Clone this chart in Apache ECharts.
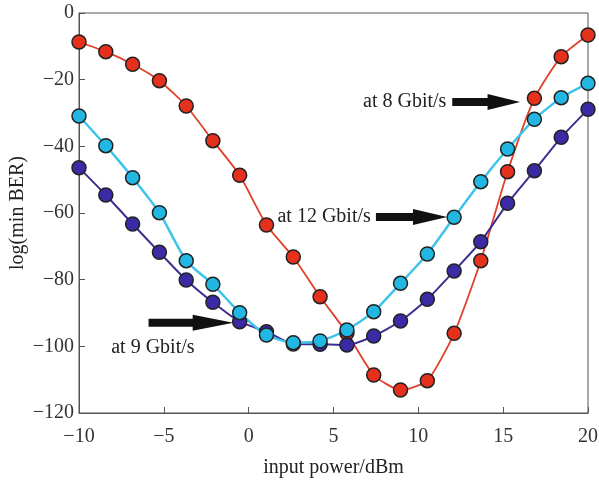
<!DOCTYPE html>
<html>
<head>
<meta charset="utf-8">
<script src="https://cdn.jsdelivr.net/npm/echarts@6/dist/echarts.min.js"></script>
<style>
  html, body { margin: 0; padding: 0; background: #fff; }
  #chart { width: 599px; height: 483px; }
</style>
</head>
<body>
<div id="chart"></div>
<script>
// input power (dBm), 20 samples from -10 to 20
const inputPower = [-10, -8.42, -6.84, -5.26, -3.68, -2.11, -0.53, 1.05, 2.63, 4.21,
  5.79, 7.37, 8.95, 10.53, 12.11, 13.68, 15.26, 16.84, 18.42, 20];
const ber8G = [-8.7, -11.6, -15.4, -20.3, -27.9, -38.3, -48.7, -63.6, -73.2, -85.1,
  -96.0, -108.6, -113.1, -110.3, -96.1, -74.3, -47.6, -25.6, -13.1, -6.6];
const ber12G = [-30.9, -39.8, -49.4, -59.9, -74.3, -81.4, -89.9, -96.6, -98.9, -98.4,
  -95.1, -89.6, -81.1, -72.3, -61.3, -50.6, -40.8, -31.9, -25.4, -21.1];
const ber9G = [-46.4, -54.6, -63.3, -71.8, -80.1, -86.8, -92.6, -95.6, -99.3, -99.4,
  -99.6, -96.9, -92.4, -85.9, -77.4, -68.6, -57.1, -47.3, -37.3, -28.9];
const xTicks = [-10, -5, 0, 5, 10, 15, 20];
const yTicks = [0, -20, -40, -60, -80, -100, -120];

// annotations: label text and arrow [tail, tip] in data units
const notes = [
  { text: "at 8 Gbit/s", align: "right", label: [11.65, -26.7], arrow: [[12.0, -26.7], [16.0, -26.7]] },
  { text: "at 12 Gbit/s", align: "right", label: [7.2, -61.2], arrow: [[7.5, -61.2], [11.7, -61.2]] },
  { text: "at 9 Gbit/s", align: "left", label: [-8.1, -100.5], arrow: [[-5.9, -92.9], [-0.9, -92.9]] }
];

const font = "'Liberation Serif', 'DejaVu Serif', serif";
const minus = (v) => String(v).replace("-", "\u2212");

const chart = echarts.init(document.getElementById("chart"));

function pairs(ys) {
  return inputPower.map((x, i) => [x, ys[i]]);
}

function lineSeries(name, ys, lineColor, dotColor, width) {
  return {
    name: name,
    type: "line",
    data: pairs(ys),
    smooth: 0.2,
    symbol: "circle",
    symbolSize: 14,
    lineStyle: { color: lineColor, width: width },
    itemStyle: { color: dotColor, borderColor: "#222", borderWidth: 1.5 },
    emphasis: { disabled: true },
    animation: false
  };
}

const option = {
  backgroundColor: "#fff",
  animation: false,
  grid: {
    left: 79, right: 11, top: 13, bottom: 70,
    outerBoundsMode: "none",
    show: true, borderColor: "#555", borderWidth: 1, backgroundColor: "transparent"
  },
  xAxis: {
    type: "value",
    min: -10, max: 20, interval: 5,
    name: "input power/dBm",
    nameLocation: "middle",
    nameGap: 45,
    nameTextStyle: { fontFamily: font, fontSize: 20, color: "#222" },
    axisLine: { onZero: false, lineStyle: { color: "#555" } },
    axisTick: { inside: true, length: 6, lineStyle: { color: "#555" } },
    axisLabel: {
      fontFamily: font, fontSize: 20, color: "#333", margin: 14,
      formatter: (v) => xTicks.includes(v) ? minus(v) : ""
    },
    splitLine: { show: false }
  },
  yAxis: {
    type: "value",
    min: -120, max: 0, interval: 20,
    name: "log(min BER)",
    nameLocation: "middle",
    nameGap: 61,
    nameMoveOverlap: false,
    nameTextStyle: { fontFamily: font, fontSize: 20, color: "#222", verticalAlign: "middle" },
    axisLine: { onZero: false, lineStyle: { color: "#555" } },
    axisTick: { inside: true, length: 6, lineStyle: { color: "#555" } },
    axisLabel: {
      fontFamily: font, fontSize: 20, color: "#333", margin: 5,
      formatter: (v) => yTicks.includes(v) ? minus(v) : ""
    },
    splitLine: { show: false }
  },
  series: [
    lineSeries("8 Gbit/s", ber8G, "#e0402a", "#e5301c", 1.8),
    lineSeries("9 Gbit/s", ber9G, "#3d2f92", "#3a2aa6", 2),
    lineSeries("12 Gbit/s", ber12G, "#3ec3ea", "#22b6e2", 2.5)
  ]
};

chart.setOption(option);

// draw annotation text and block arrows from data coordinates
const graphics = [];
notes.forEach((n) => {
  const lp = chart.convertToPixel({ gridIndex: 0 }, n.label);
  graphics.push({
    type: "text",
    x: lp[0], y: lp[1],
    style: {
      text: n.text, font: "20px " + font, fill: "#222",
      textAlign: n.align, textVerticalAlign: "middle"
    },
    z: 20
  });
  const a = chart.convertToPixel({ gridIndex: 0 }, n.arrow[0]);
  const b = chart.convertToPixel({ gridIndex: 0 }, n.arrow[1]);
  const headLen = (b[0] - a[0]) * 0.48;
  const hx = b[0] - headLen;
  graphics.push({
    type: "polygon",
    shape: {
      points: [
        [a[0], a[1] - 4], [hx, a[1] - 4], [hx, a[1] - 8], [b[0], b[1]],
        [hx, a[1] + 8], [hx, a[1] + 4], [a[0], a[1] + 4]
      ]
    },
    style: { fill: "#111" },
    z: 20
  });
});
chart.setOption({ graphic: graphics });
</script>
</body>
</html>
